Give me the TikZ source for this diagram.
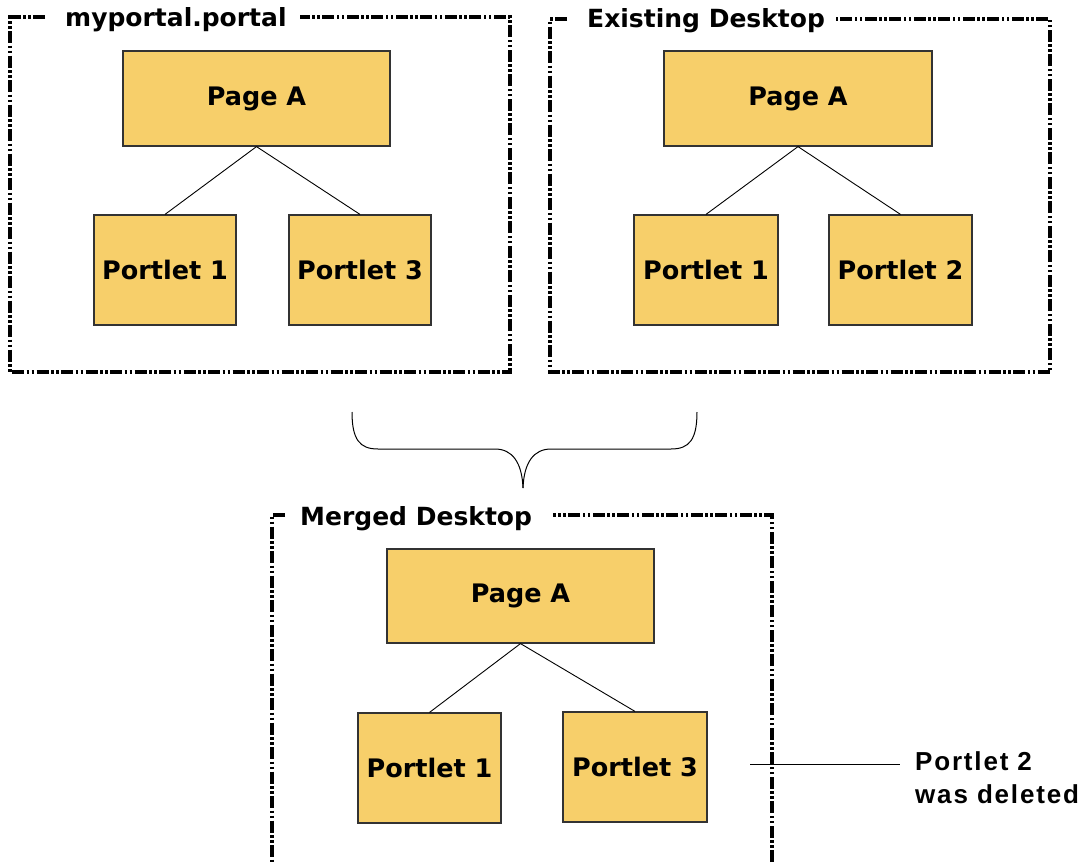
\documentclass[tikz,border=0pt]{standalone}
\usepackage{fontspec}
\setmainfont{DejaVu Sans}
\newfontfamily\notefont[LetterSpace=7]{Liberation Sans}
\begin{document}
\begin{tikzpicture}[x=1pt,y=-1pt,
  box/.style={draw=black!80,line width=1.2pt,fill=boxfill,inner sep=0pt,
    font=\bfseries\fontsize{25.5}{30}\selectfont},
  frame/.style={line width=3.5pt,dash pattern=on 12pt off 2.5pt on 2.5pt off 2.5pt on 2.5pt off 2.5pt},
  ttl/.style={anchor=base west,inner sep=0pt,font=\bfseries\fontsize{25}{28}\selectfont},
  link/.style={line width=0.9pt,black}]
\definecolor{boxfill}{HTML}{F7CF6A}
\useasboundingbox[fill=white] (0,0) rectangle (1085,865);

% Frame 1
\draw[frame] (45,17) -- (10,17) -- (10,372) -- (510,372) -- (510,17) -- (300,17);
\node[ttl] (t1) at (65,26) {myportal.portal};
\node[box,minimum width=267pt,minimum height=95pt] (a1) at (256.5,98.5) {Page A};
\node[box,minimum width=142pt,minimum height=110pt] (a1p1) at (165,270) {Portlet 1};
\node[box,minimum width=142pt,minimum height=110pt] (a1p3) at (360,270) {Portlet 3};
\draw[link] (a1.south) -- (a1p1.north);
\draw[link] (a1.south) -- (a1p3.north);

% Frame 2
\draw[frame] (567,19) -- (550,19) -- (550,372) -- (1050,372) -- (1050,19) -- (836,19);
\node[ttl] (t2) at (587,27) {Existing Desktop};
\node[box,minimum width=268pt,minimum height=95pt] (a2) at (798,98.5) {Page A};
\node[box,minimum width=144pt,minimum height=110pt] (a2p1) at (706,270) {Portlet 1};
\node[box,minimum width=143pt,minimum height=110pt] (a2p2) at (900.5,270) {Portlet 2};
\draw[link] (a2.south) -- (a2p1.north);
\draw[link] (a2.south) -- (a2p2.north);

% Brace
\draw[line width=1pt] (352,412) .. controls (352,440) and (360,449) .. (378,449)
  -- (495,449) .. controls (512,449) and (522,462) .. (523,488);
\draw[line width=1pt] (697,412) .. controls (697,440) and (689,449) .. (671,449)
  -- (551,449) .. controls (534,449) and (524,462) .. (523,488);

% Frame 3
\draw[frame] (285,515) -- (272,515) -- (272,862) (772,862) -- (772,515) -- (553,515);
\node[ttl] (t3) at (300,525) {Merged Desktop};
\node[box,minimum width=267pt,minimum height=94pt] (a3) at (520.5,596) {Page A};
\node[box,minimum width=143pt,minimum height=110pt] (a3p1) at (429.5,768) {Portlet 1};
\node[box,minimum width=144pt,minimum height=110pt] (a3p3) at (635,767) {Portlet 3};
\draw[link] (a3.south) -- (a3p1.north);
\draw[link] (a3.south) -- (a3p3.north);

% Note
\coordinate (n1) at (750,764);
\coordinate (n2) at (900,764);
\draw[line width=1pt] (n1) -- (n2);
\node[anchor=base west,inner sep=0pt,align=left,
  font=\notefont\bfseries\fontsize{26}{33}\selectfont] (note) at (915,803)
  {Portlet 2\\was deleted};
\end{tikzpicture}
\end{document}
